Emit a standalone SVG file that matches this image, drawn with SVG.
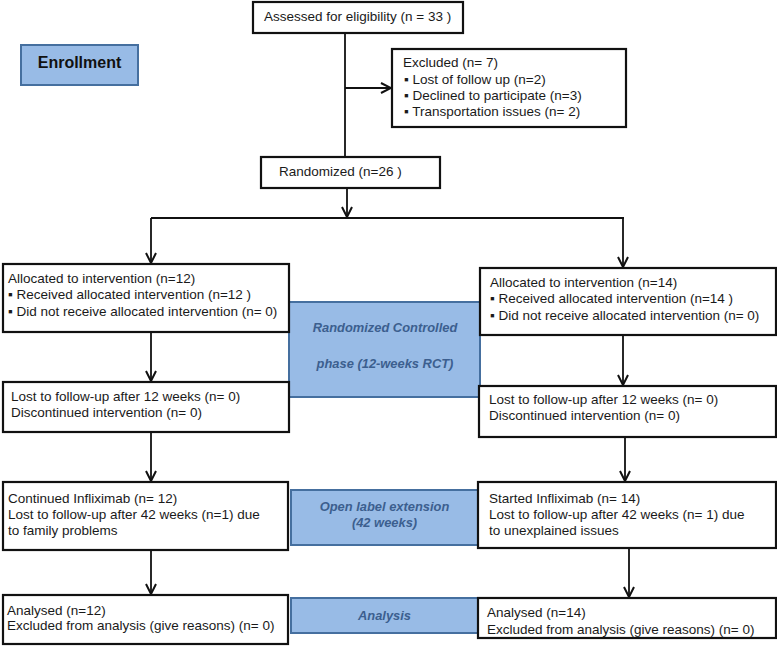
<svg xmlns="http://www.w3.org/2000/svg" width="777" height="649" viewBox="0 0 777 649">
<defs>
<marker id="arr" viewBox="0 0 12 12" refX="11" refY="6" markerWidth="12" markerHeight="12" markerUnits="userSpaceOnUse" orient="auto">
<path d="M1,1 L11,6 L1,11" fill="none" stroke="#111" stroke-width="2"/>
</marker>
<style>
.box{fill:#fff;stroke:#111;stroke-width:2.2}
.blue{fill:#98bbe6;stroke:#456f9f;stroke-width:2}
.t{font-family:"Liberation Sans",Arial,sans-serif;font-size:13.5px;fill:#1a1a1a}
.bt{font-family:"Liberation Sans",Arial,sans-serif;font-size:12.9px;font-weight:bold;font-style:italic;fill:#3c5f8f}
.c{fill:none;stroke:#111;stroke-width:1.8}
</style>
</defs>
<rect width="777" height="649" fill="#fff"/>

<g id="enrollment">
<rect class="blue" x="21" y="45" width="117" height="40"/>
<text x="79.5" y="68" text-anchor="middle" style="font-family:'Liberation Sans',Arial,sans-serif;font-size:16px;font-weight:bold;fill:#111">Enrollment</text>
</g>

<g id="rct-phase">
<rect class="blue" x="289" y="302" width="191" height="95"/>
<text class="bt" x="385" y="332" text-anchor="middle">Randomized Controlled</text>
<text class="bt" x="385" y="368" text-anchor="middle">phase (12-weeks RCT)</text>
</g>

<g id="open-label">
<rect class="blue" x="291" y="490" width="187" height="55"/>
<text class="bt" x="384.5" y="511" text-anchor="middle">Open label extension</text>
<text class="bt" x="384.5" y="527" text-anchor="middle">(42 weeks)</text>
</g>

<g id="analysis">
<rect class="blue" x="291" y="598" width="187" height="35"/>
<text class="bt" x="384.5" y="620" text-anchor="middle">Analysis</text>
</g>

<g id="connectors">
<line class="c" x1="345" y1="33" x2="345" y2="157"/>
<line class="c" x1="345" y1="88" x2="391" y2="88" marker-end="url(#arr)"/>
<line class="c" x1="347" y1="188" x2="347" y2="217" marker-end="url(#arr)"/>
<polyline class="c" points="151,218 624,218"/>
<line class="c" x1="151" y1="218" x2="151" y2="263" marker-end="url(#arr)"/>
<line class="c" x1="623" y1="218" x2="623" y2="267" marker-end="url(#arr)"/>
<line class="c" x1="151" y1="332" x2="151" y2="381" marker-end="url(#arr)"/>
<line class="c" x1="623" y1="335" x2="623" y2="385" marker-end="url(#arr)"/>
<line class="c" x1="151" y1="432" x2="151" y2="481" marker-end="url(#arr)"/>
<line class="c" x1="625" y1="437" x2="625" y2="481" marker-end="url(#arr)"/>
<line class="c" x1="151" y1="550" x2="151" y2="594" marker-end="url(#arr)"/>
<line class="c" x1="629" y1="548" x2="629" y2="597" marker-end="url(#arr)"/>
</g>

<g id="assessed">
<rect class="box" x="253" y="2" width="210" height="31"/>
<text class="t" x="264" y="21">Assessed for eligibility (n = 33 )</text>
</g>

<g id="excluded">
<rect class="box" x="392" y="49" width="234" height="78"/>
<text class="t" x="403" y="67">Excluded (n= 7)</text>
<text class="t" x="404" y="84">▪ Lost of follow up (n=2)</text>
<text class="t" x="404" y="100">▪ Declined to participate (n=3)</text>
<text class="t" x="404" y="116">▪ Transportation issues (n= 2)</text>
</g>

<g id="randomized">
<rect class="box" x="261" y="157" width="179" height="31"/>
<text class="t" x="279" y="176">Randomized (n=26 )</text>
</g>

<g id="alloc-left">
<rect class="box" x="3" y="264" width="286" height="68"/>
<text class="t" x="8" y="283">Allocated to intervention (n=12)</text>
<text class="t" x="8" y="299">▪ Received allocated intervention (n=12 )</text>
<text class="t" x="8" y="316">▪ Did not receive allocated intervention (n= 0)</text>
</g>

<g id="alloc-right">
<rect class="box" x="480" y="268" width="296" height="67"/>
<text class="t" x="490" y="287">Allocated to intervention (n=14)</text>
<text class="t" x="490" y="303">▪ Received allocated intervention (n=14 )</text>
<text class="t" x="490" y="320">▪ Did not receive allocated intervention (n= 0)</text>
</g>

<g id="lost-left">
<rect class="box" x="3" y="382" width="286" height="50"/>
<text class="t" x="11" y="401">Lost to follow-up after 12 weeks (n= 0)</text>
<text class="t" x="11" y="417">Discontinued intervention (n= 0)</text>
</g>

<g id="lost-right">
<rect class="box" x="479" y="386" width="297" height="51"/>
<text class="t" x="489" y="404">Lost to follow-up after 12 weeks (n= 0)</text>
<text class="t" x="489" y="420">Discontinued intervention (n= 0)</text>
</g>

<g id="ext-left">
<rect class="box" x="3" y="482" width="285" height="68"/>
<text class="t" x="8" y="503">Continued Infliximab (n= 12)</text>
<text class="t" x="8" y="519">Lost to follow-up after 42 weeks (n=1) due</text>
<text class="t" x="8" y="535">to family problems</text>
</g>

<g id="ext-right">
<rect class="box" x="478" y="482" width="298" height="66"/>
<text class="t" x="489" y="503">Started Infliximab (n= 14)</text>
<text class="t" x="489" y="519">Lost to follow-up after 42 weeks (n= 1) due</text>
<text class="t" x="489" y="535">to unexplained issues</text>
</g>

<g id="analysed-left">
<rect class="box" x="3" y="595" width="285" height="49"/>
<text class="t" x="7" y="615">Analysed (n=12)</text>
<text class="t" x="7" y="630">Excluded from analysis (give reasons) (n= 0)</text>
</g>

<g id="analysed-right">
<rect class="box" x="478" y="598" width="298" height="40"/>
<text class="t" x="487" y="617">Analysed (n=14)</text>
<text class="t" x="487" y="634">Excluded from analysis (give reasons) (n= 0)</text>
</g>
</svg>
